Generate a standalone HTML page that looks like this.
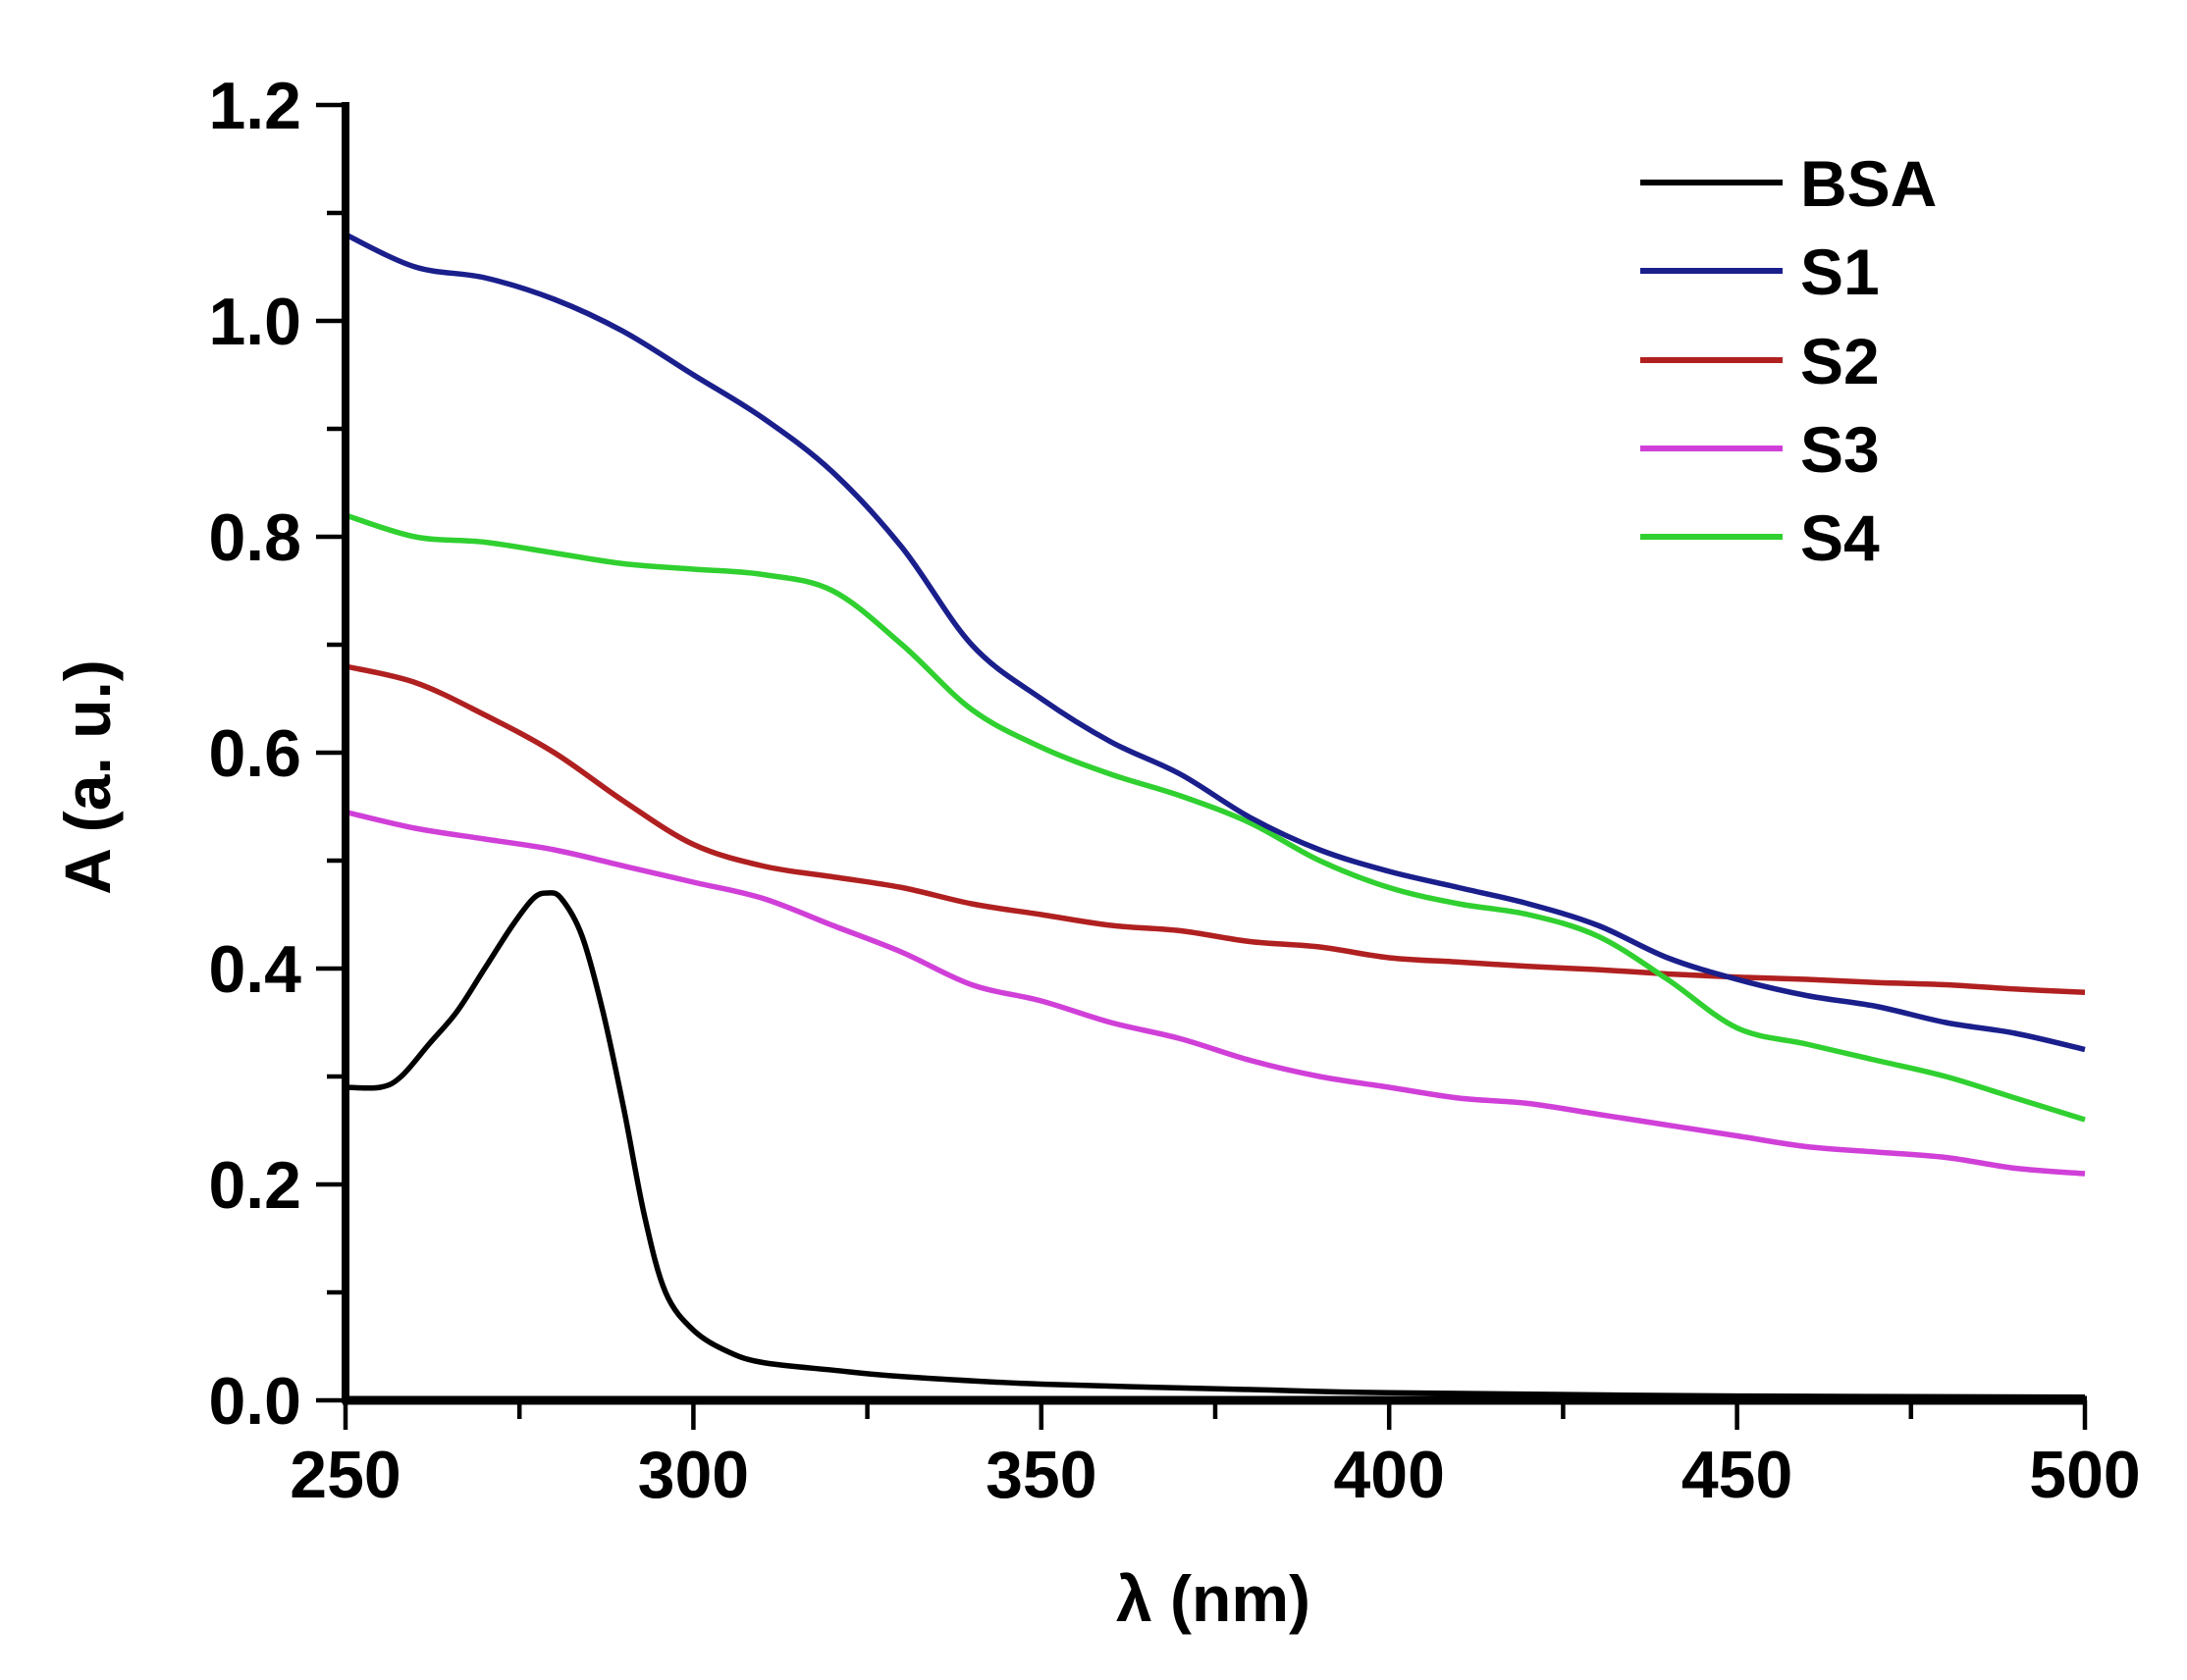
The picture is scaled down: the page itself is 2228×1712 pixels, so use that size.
<!DOCTYPE html>
<html><head><meta charset="utf-8"><style>
html,body{margin:0;padding:0;background:#fff;}
svg{display:block;font-family:"Liberation Sans",Arial,sans-serif;font-weight:bold;}
</style></head><body>
<svg id="chart" width="2228" height="1712" viewBox="0 0 2228 1712"></svg>
<script>
const xTicks=[250,300,350,400,450,500];
const yTicks=[0.0,0.2,0.4,0.6,0.8,1.0,1.2];
const yTickLabels=["0.0","0.2","0.4","0.6","0.8","1.0","1.2"];
const seriesNames=["BSA","S1","S2","S3","S4"];
const seriesColors=["#000000","#1a1f8c","#b02020","#d040d8","#30d030"];
const bsaX=[250,255,258,262,266,270,274,277,279,281,284,287,290,293,296,300,305,310,320,330,350,380,400,450,500];
const bsaY=[0.29,0.29,0.30,0.33,0.36,0.40,0.44,0.465,0.47,0.465,0.43,0.36,0.27,0.17,0.10,0.065,0.045,0.035,0.028,0.022,0.015,0.010,0.007,0.004,0.003];
const gridX=[250,260,270,280,290,300,310,320,330,340,350,360,370,380,390,400,410,420,430,440,450,460,470,480,490,500];
const s1Y=[1.08,1.05,1.04,1.02,0.99,0.95,0.91,0.86,0.79,0.70,0.65,0.61,0.58,0.54,0.51,0.49,0.475,0.46,0.44,0.41,0.39,0.375,0.365,0.35,0.34,0.325];
const s2Y=[0.68,0.665,0.635,0.60,0.555,0.515,0.495,0.485,0.475,0.46,0.45,0.44,0.435,0.425,0.42,0.41,0.406,0.402,0.399,0.395,0.392,0.39,0.387,0.385,0.381,0.378];
const s3Y=[0.545,0.53,0.52,0.51,0.495,0.48,0.465,0.44,0.415,0.385,0.37,0.35,0.335,0.315,0.30,0.29,0.28,0.275,0.265,0.255,0.245,0.235,0.23,0.225,0.215,0.21];
const s4Y=[0.82,0.80,0.795,0.785,0.775,0.77,0.765,0.75,0.70,0.64,0.605,0.58,0.56,0.535,0.50,0.475,0.46,0.45,0.43,0.39,0.345,0.33,0.315,0.30,0.28,0.26];

const NS="http://www.w3.org/2000/svg";
const svg=document.getElementById('chart');
const X0=352,X1=2124,Y0=1427,Y1=107;
function sx(v){return X0+(v-250)/(500-250)*(X1-X0);}
function sy(v){return Y0-(v-0)/(1.2-0)*(Y0-Y1);}
function mk(tag,attrs,parent){const e=document.createElementNS(NS,tag);for(const k in attrs)e.setAttribute(k,attrs[k]);(parent||svg).appendChild(e);return e;}
function smooth(xs,ys){
  const p=xs.map((x,i)=>[sx(x),sy(ys[i])]);
  let d="M"+p[0][0]+","+p[0][1];
  for(let i=0;i<p.length-1;i++){
    const a=p[Math.max(i-1,0)],b=p[i],c=p[i+1],e=p[Math.min(i+2,p.length-1)];
    const c1=[b[0]+(c[0]-a[0])/6,b[1]+(c[1]-a[1])/6];
    const c2=[c[0]-(e[0]-b[0])/6,c[1]-(e[1]-b[1])/6];
    d+=" C"+c1[0]+","+c1[1]+" "+c2[0]+","+c2[1]+" "+c[0]+","+c[1];
  }
  return d;
}
const seriesData=[[bsaX,bsaY],[gridX,s1Y],[gridX,s2Y],[gridX,s3Y],[gridX,s4Y]];
const drawOrder=[2,3,4,1,0];
drawOrder.forEach(i=>{
  const p=mk('path',{d:smooth(seriesData[i][0],seriesData[i][1]),fill:'none',stroke:seriesColors[i],'stroke-width':5.5,'stroke-linejoin':'round'});
  
  
});
const ax=mk('g',{});


mk('line',{x1:X0,y1:Y1-3,x2:X0,y2:Y0+3,stroke:'#000','stroke-width':8},ax);
mk('line',{x1:X0-3,y1:Y0,x2:X1+2,y2:Y0,stroke:'#000','stroke-width':9},ax);
for(let v=0;v<=1.2001;v+=0.1){
  const major=Math.round(v*10)%2===0;
  mk('line',{x1:X0-(major?30:19),y1:sy(v),x2:X0,y2:sy(v),stroke:'#000','stroke-width':4.5},ax);
}
for(let v=250;v<=500;v+=25){
  const major=v%50===0;
  mk('line',{x1:sx(v),y1:Y0,x2:sx(v),y2:Y0+(major?30:19),stroke:'#000','stroke-width':4.5},ax);
}
yTicks.forEach((v,i)=>{
  const t=mk('text',{x:307,y:sy(v)+24,'text-anchor':'end','font-size':68},ax);
  
  
  t.textContent=yTickLabels[i];
});
xTicks.forEach(v=>{
  const t=mk('text',{x:sx(v),y:1526,'text-anchor':'middle','font-size':68},ax);
  
  
  t.textContent=String(v);
});
const xt=mk('text',{x:1236,y:1652,'text-anchor':'middle','font-size':66});


xt.textContent='λ (nm)';
const yt=mk('text',{x:0,y:0,'text-anchor':'middle','font-size':66,transform:'translate(112,792) rotate(-90)'});


yt.textContent='A (a. u.)';
const lg=mk('g',{});


const legY=[186,276,367,457,547];
seriesNames.forEach((n,i)=>{
  const g=mk('g',{},lg);
  
  
  mk('line',{x1:1671,y1:legY[i],x2:1816,y2:legY[i],stroke:seriesColors[i],'stroke-width':6},g);
  const t=mk('text',{x:1834,y:legY[i]+24,'font-size':66},g);
  t.textContent=n;
});
</script>
</body></html>
